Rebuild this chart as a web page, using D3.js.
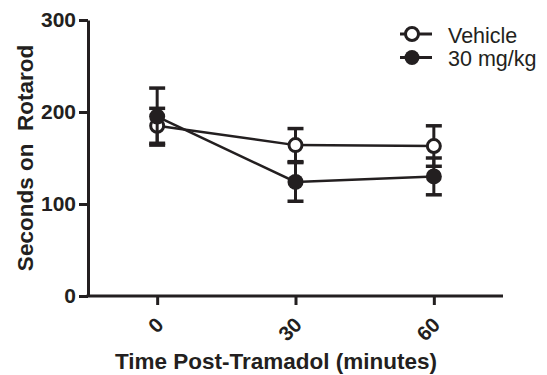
<!DOCTYPE html>
<html><head><meta charset="utf-8">
<script src="https://cdn.jsdelivr.net/npm/d3@7"></script>
<style>body{margin:0;background:#fff}svg{display:block}text{font-family:"Liberation Sans",Arial,sans-serif;fill:#231f20}</style>
</head><body>
<script>
const times = ["0", "30", "60"];
const vehicleMean = [185, 164, 163];
const vehicleSem = [19, 18, 22];
const tramMean = [195, 124, 130];
const tramSem = [31, 21, 20];
const yTicks = [0, 100, 200, 300];
const seriesNames = ["Vehicle", "30 mg/kg"];

const W = 547, H = 375, C = "#231f20";
const svg = d3.select("body").append("svg").attr("width", W).attr("height", H);
const x = d3.scalePoint().domain(times).range([88, 503]).padding(0.5);
const y = d3.scaleLinear().domain([0, 300]).range([296, 20]);

// Y axis
const ya = svg.append("g").attr("transform", "translate(88,0)")
  .call(d3.axisLeft(y).tickValues(yTicks).tickSize(9).tickPadding(3).tickSizeOuter(0));
ya.select(".domain").attr("stroke", C).attr("stroke-width", 3);
ya.selectAll(".tick line").attr("stroke", C).attr("stroke-width", 3);
ya.selectAll(".tick text").attr("font-size", 21).attr("font-weight", "bold")
  .attr("font-family", "Liberation Sans, Arial, sans-serif").attr("fill", C);

// X axis
const xa = svg.append("g").attr("transform", "translate(0,296)")
  .call(d3.axisBottom(x).tickSize(9).tickSizeOuter(0));
xa.select(".domain").attr("stroke", C).attr("stroke-width", 3).attr("d", `M86.5,0H503`);
xa.selectAll(".tick line").attr("stroke", C).attr("stroke-width", 3);
xa.selectAll(".tick text").remove();
xa.selectAll(".tick").append("text")
  .attr("transform", "translate(2,25) rotate(-45)")
  .attr("text-anchor", "end").attr("dy", "0.35em")
  .attr("font-size", 20.5).attr("font-weight", "bold")
  .attr("font-family", "Liberation Sans, Arial, sans-serif").attr("fill", C)
  .text(d => d);

// Axis titles
svg.append("text").attr("transform", "translate(33,158) rotate(-90)")
  .attr("text-anchor", "middle").attr("font-size", 22.5).attr("font-weight", "bold")
  .attr("xml:space", "preserve").style("white-space", "pre")
  .text("Seconds on  Rotarod");
svg.append("text").attr("x", 276).attr("y", 369)
  .attr("text-anchor", "middle").attr("font-size", 22.5).attr("font-weight", "bold")
  .text("Time Post-Tramadol (minutes)");

function drawSeries(means, sems, filled) {
  const g = svg.append("g");
  const pts = times.map((t, i) => ({t, m: means[i], s: sems[i]}));
  g.append("path").datum(pts)
    .attr("fill", "none").attr("stroke", C).attr("stroke-width", 2.5)
    .attr("d", d3.line().x(d => x(d.t)).y(d => y(d.m)));
  const eb = g.selectAll(".eb").data(pts).join("g");
  eb.append("line").attr("x1", d => x(d.t)).attr("x2", d => x(d.t))
    .attr("y1", d => y(d.m - d.s)).attr("y2", d => y(d.m + d.s))
    .attr("stroke", C).attr("stroke-width", 3);
  [-1, 1].forEach(k => {
    eb.append("line").attr("x1", d => x(d.t) - 8).attr("x2", d => x(d.t) + 8)
      .attr("y1", d => y(d.m + k * d.s)).attr("y2", d => y(d.m + k * d.s))
      .attr("stroke", C).attr("stroke-width", 3.5);
  });
  g.selectAll("circle").data(pts).join("circle")
    .attr("cx", d => x(d.t)).attr("cy", d => y(d.m))
    .attr("r", filled ? 8 : 6.5)
    .attr("fill", filled ? C : "#fff").attr("stroke", C).attr("stroke-width", filled ? 0 : 3);
}
drawSeries(vehicleMean, vehicleSem, false);
drawSeries(tramMean, tramSem, true);

// Legend
const leg = svg.append("g");
seriesNames.forEach((name, i) => {
  const cy = 34 + i * 23.5;
  leg.append("line").attr("x1", 400).attr("x2", 432).attr("y1", cy).attr("y2", cy)
    .attr("stroke", C).attr("stroke-width", 3);
  leg.append("circle").attr("cx", 412).attr("cy", cy).attr("r", i === 0 ? 6.5 : 7.5)
    .attr("fill", i === 0 ? "#fff" : C).attr("stroke", C).attr("stroke-width", i === 0 ? 3 : 0);
  leg.append("text").attr("x", 448).attr("y", cy + 8.5).attr("font-size", 21.5).text(name);
});
</script>
</body></html>
